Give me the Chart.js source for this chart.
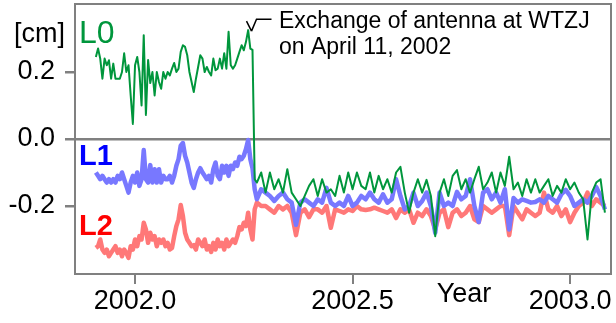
<!DOCTYPE html>
<html>
<head>
<meta charset="utf-8">
<script src="https://cdn.jsdelivr.net/npm/chart.js@4.4.1/dist/chart.umd.min.js"></script>
<style>
html, body { margin: 0; padding: 0; background: #fff; }
</style>
</head>
<body>
<canvas id="antennaChart" width="616" height="323"></canvas>
<script>
// sample epochs (decimal year)
var years = [
    2001.910, 2001.915, 2001.920, 2001.925, 2001.930, 2001.935, 2001.940, 2001.945, 2001.950, 2001.955,
    2001.960, 2001.965, 2001.970, 2001.975, 2001.980, 2001.985, 2001.990, 2001.995, 2002.000, 2002.005,
    2002.010, 2002.015, 2002.020, 2002.025, 2002.030, 2002.035, 2002.040, 2002.045, 2002.050, 2002.055,
    2002.060, 2002.065, 2002.070, 2002.075, 2002.080, 2002.085, 2002.090, 2002.095, 2002.100, 2002.105,
    2002.110, 2002.115, 2002.120, 2002.125, 2002.130, 2002.135, 2002.140, 2002.145, 2002.150, 2002.155,
    2002.160, 2002.165, 2002.170, 2002.175, 2002.180, 2002.185, 2002.190, 2002.195, 2002.200, 2002.205,
    2002.210, 2002.215, 2002.220, 2002.225, 2002.230, 2002.235, 2002.240, 2002.245, 2002.250, 2002.255,
    2002.260, 2002.265, 2002.270, 2002.275,
    2002.28, 2002.29, 2002.30, 2002.31, 2002.32, 2002.33, 2002.34, 2002.35, 2002.36, 2002.37,
    2002.38, 2002.39, 2002.40, 2002.41, 2002.42, 2002.43, 2002.44, 2002.45, 2002.46, 2002.47,
    2002.48, 2002.49, 2002.50, 2002.51, 2002.52, 2002.53, 2002.54, 2002.55, 2002.56, 2002.57,
    2002.58, 2002.59, 2002.60, 2002.61, 2002.62, 2002.63, 2002.64, 2002.65, 2002.66, 2002.67,
    2002.68, 2002.69, 2002.70, 2002.71, 2002.72, 2002.73, 2002.74, 2002.75, 2002.76, 2002.77,
    2002.78, 2002.79, 2002.80, 2002.81, 2002.82, 2002.83, 2002.84, 2002.85, 2002.86, 2002.87,
    2002.88, 2002.89, 2002.90, 2002.91, 2002.92, 2002.93, 2002.94, 2002.95, 2002.96, 2002.97,
    2002.98, 2002.99, 2003.00, 2003.01, 2003.02, 2003.03, 2003.04, 2003.05, 2003.06, 2003.07,
    2003.08
];

// L0 [cm]
var l0 = [
    0.245, 0.27, 0.24, 0.18, 0.24, 0.22, 0.235, 0.18, 0.225, 0.18,
    0.18, 0.18, 0.2, 0.256, 0.2, 0.22, 0.13, 0.045, 0.22, 0.245,
    0.2, 0.10, 0.31, 0.072, 0.236, 0.167, 0.2, 0.13, 0.2, 0.17,
    0.15, 0.2, 0.18, 0.2, 0.19, 0.21, 0.227, 0.2, 0.21, 0.26,
    0.28, 0.275, 0.25, 0.2, 0.17, 0.14, 0.18, 0.215, 0.25, 0.24,
    0.2, 0.215, 0.2, 0.19, 0.24, 0.205, 0.21, 0.24, 0.21, 0.256,
    0.21, 0.32, 0.22, 0.21, 0.22, 0.24, 0.26, 0.28, 0.265, 0.29,
    0.325, 0.27, 0.266, -0.12,
    -0.13, -0.10, -0.16, -0.10, -0.15, -0.12, -0.16, -0.09, -0.16, -0.18,
    -0.2, -0.17, -0.14, -0.12, -0.17, -0.12, -0.16, -0.15, -0.17, -0.11,
    -0.16, -0.10, -0.15, -0.10, -0.14, -0.15, -0.10, -0.16, -0.11, -0.15,
    -0.12, -0.16, -0.10, -0.083, -0.16, -0.22, -0.16, -0.12, -0.16, -0.122,
    -0.17, -0.29, -0.16, -0.12, -0.17, -0.11, -0.093, -0.15, -0.12, -0.16,
    -0.12, -0.083, -0.15, -0.13, -0.10, -0.16, -0.10, -0.14, -0.053, -0.15,
    -0.13, -0.17, -0.12, -0.16, -0.12, -0.16, -0.14, -0.12, -0.17, -0.14,
    -0.16, -0.12, -0.15, -0.13, -0.16, -0.18, -0.30, -0.16, -0.13, -0.12,
    -0.22
];

// L1 [cm]
var l1 = [
    -0.10, -0.11, -0.12, -0.11, -0.12, -0.13, -0.12, -0.13, -0.12, -0.13,
    -0.11, -0.12, -0.10, -0.12, -0.14, -0.16, -0.13, -0.11, -0.13, -0.10,
    -0.14, -0.12, -0.033, -0.12, -0.13, -0.078, -0.13, -0.09, -0.13, -0.09,
    -0.13, -0.11, -0.12, -0.12, -0.11, -0.13, -0.11, -0.08, -0.06, -0.02,
    -0.012, -0.05, -0.07, -0.10, -0.13, -0.146, -0.12, -0.10, -0.087, -0.10,
    -0.11, -0.12, -0.11, -0.13, -0.09, -0.07, -0.11, -0.12, -0.08, -0.10,
    -0.08, -0.11, -0.08, -0.09, -0.07, -0.08, -0.053, -0.06, -0.05, -0.03,
    -0.003, -0.06, -0.087, -0.15,
    -0.18, -0.15, -0.16, -0.17, -0.185, -0.17, -0.16, -0.18, -0.19, -0.256,
    -0.19, -0.18, -0.19, -0.2, -0.18, -0.19, -0.146, -0.19, -0.2, -0.19,
    -0.2, -0.17, -0.2, -0.19, -0.17, -0.18, -0.16, -0.18, -0.19, -0.165,
    -0.19, -0.18, -0.12, -0.17, -0.21, -0.2, -0.16, -0.2, -0.185, -0.16,
    -0.2, -0.28, -0.16, -0.2, -0.19, -0.2, -0.158, -0.18, -0.17, -0.12,
    -0.2, -0.248, -0.16, -0.15, -0.18, -0.16, -0.19, -0.15, -0.27, -0.176,
    -0.19, -0.18, -0.185, -0.19, -0.188, -0.18, -0.19, -0.17, -0.18, -0.19,
    -0.165, -0.152, -0.17, -0.20, -0.19, -0.18, -0.19, -0.17, -0.143, -0.17,
    -0.21
];

// L2 [cm]
var l2 = [
    -0.325, -0.32, -0.30, -0.33, -0.34, -0.33, -0.35, -0.34, -0.33, -0.32,
    -0.34, -0.33, -0.35, -0.33, -0.34, -0.355, -0.32, -0.33, -0.30, -0.32,
    -0.29, -0.30, -0.25, -0.27, -0.31, -0.28, -0.30, -0.29, -0.32, -0.30,
    -0.31, -0.30, -0.32, -0.31, -0.33, -0.325, -0.29, -0.26, -0.24, -0.197,
    -0.23, -0.28, -0.30, -0.31, -0.32, -0.317, -0.33, -0.30, -0.31, -0.32,
    -0.30, -0.33, -0.32, -0.337, -0.31, -0.33, -0.30, -0.32, -0.31, -0.33,
    -0.30, -0.32, -0.31, -0.30, -0.31, -0.29, -0.263, -0.27, -0.25, -0.26,
    -0.22, -0.27, -0.30, -0.21,
    -0.19, -0.2, -0.2, -0.21, -0.22, -0.2, -0.21, -0.2, -0.22, -0.287,
    -0.22, -0.21, -0.233, -0.21, -0.21, -0.22, -0.2, -0.265, -0.21, -0.215,
    -0.22, -0.21, -0.215, -0.2, -0.21, -0.212, -0.21, -0.205, -0.21, -0.215,
    -0.22, -0.21, -0.236, -0.21, -0.22, -0.21, -0.25, -0.22, -0.23, -0.21,
    -0.23, -0.27, -0.22, -0.21, -0.263, -0.22, -0.21, -0.23, -0.22, -0.2,
    -0.24, -0.248, -0.2, -0.21, -0.22, -0.21, -0.2, -0.2, -0.287, -0.2,
    -0.22, -0.24, -0.21, -0.22, -0.23, -0.22, -0.16, -0.21, -0.22, -0.2,
    -0.23, -0.21, -0.248, -0.22, -0.2, -0.19, -0.16, -0.2, -0.18, -0.19,
    -0.2
];

var xTicks = [2002.0, 2002.5, 2003.0];
var yTicks = [-0.2, 0.0, 0.2];
var noteLines = ['Exchange of antenna at WTZJ', 'on April 11, 2002'];
var noteYear = 2002.27;

var FONT = "'Liberation Sans', Arial, sans-serif";
var GRAY = '#808080';
var GREEN = '#00963c';

function points(ys) {
    return ys.map(function (v, i) { return { x: years[i], y: v }; });
}

// frame, labels and the annotation arrow
var extras = {
    id: 'extras',
    afterDraw: function (chart) {
        var ctx = chart.ctx, a = chart.chartArea;
        var xs = chart.scales.x, ys = chart.scales.y;
        ctx.save();
        ctx.strokeStyle = GRAY;
        ctx.lineWidth = 2;
        ctx.strokeRect(a.left, a.top, a.right - a.left, a.bottom - a.top);

        ctx.textAlign = 'left';
        ctx.textBaseline = 'alphabetic';
        ctx.fillStyle = '#000';
        ctx.font = '27px ' + FONT;
        ctx.fillText('[cm]', 14, 42);
        ctx.fillStyle = GREEN;
        ctx.font = '32px ' + FONT;
        ctx.fillText('L0', 79, 43);
        ctx.font = 'bold 29px ' + FONT;
        ctx.fillStyle = '#0000ff';
        ctx.fillText('L1', 79, 165);
        ctx.fillStyle = '#ff0000';
        ctx.fillText('L2', 79, 235);

        ctx.fillStyle = '#000';
        ctx.font = '23px ' + FONT;
        ctx.fillText(noteLines[0], 279, 28);
        ctx.fillText(noteLines[1], 279, 54);
        ctx.font = '27px ' + FONT;
        ctx.textAlign = 'center';
        ctx.fillText('Year', 464, 302);

        // arrow pointing at the L0 peak
        var tx = xs.getPixelForValue(noteYear) - 1;
        var ty = ys.getPixelForValue(0.322);
        ctx.strokeStyle = '#000';
        ctx.lineWidth = 1.5;
        ctx.beginPath();
        ctx.moveTo(tx + 20, ty - 12);
        ctx.lineTo(tx + 5, ty - 12);
        ctx.lineTo(tx, ty);
        ctx.moveTo(tx - 5, ty - 10);
        ctx.lineTo(tx, ty);
        ctx.stroke();
        ctx.restore();
    }
};

var antennaChart = new Chart(document.getElementById('antennaChart'), {
    type: 'line',
    data: {
        datasets: [
            { label: 'L0', data: points(l0), borderColor: GREEN, borderWidth: 2 },
            { label: 'L1', data: points(l1), borderColor: '#7878ff', borderWidth: 4.5 },
            { label: 'L2', data: points(l2), borderColor: '#ff7878', borderWidth: 4.5 }
        ]
    },
    options: {
        responsive: false,
        animation: false,
        devicePixelRatio: 1,
        elements: { point: { radius: 0 }, line: { tension: 0, borderJoinStyle: 'round' } },
        layout: { padding: { top: 4, right: 5, left: 0, bottom: 0 } },
        plugins: { legend: { display: false }, tooltip: { enabled: false } },
        scales: {
            x: {
                type: 'linear',
                min: 2001.862,
                max: 2003.094,
                afterBuildTicks: function (s) { s.ticks = xTicks.map(function (v) { return { value: v }; }); },
                afterFit: function (s) { s.height = 49; s.paddingLeft = 0; s.paddingRight = 0; },
                ticks: {
                    font: { family: FONT, size: 27 },
                    color: '#000',
                    padding: 1,
                    maxRotation: 0,
                    callback: function (v) { return v.toFixed(1); }
                },
                grid: { drawOnChartArea: false, drawTicks: true, tickLength: 10, tickColor: GRAY, lineWidth: 2 },
                border: { display: false }
            },
            y: {
                min: -0.403,
                max: 0.403,
                afterBuildTicks: function (s) { s.ticks = yTicks.map(function (v) { return { value: v }; }); },
                afterFit: function (s) { s.width = 75; s.paddingTop = 0; s.paddingBottom = 0; },
                ticks: {
                    font: { family: FONT, size: 27 },
                    color: '#000',
                    padding: 10,
                    callback: function (v) { return v.toFixed(1); }
                },
                grid: {
                    color: function (c) { return c.tick && c.tick.value === 0 ? GRAY : 'rgba(0,0,0,0)'; },
                    tickColor: GRAY,
                    lineWidth: 2.5,
                    tickLength: 10
                },
                border: { display: false }
            }
        }
    },
    plugins: [extras]
});
</script>
</body>
</html>
